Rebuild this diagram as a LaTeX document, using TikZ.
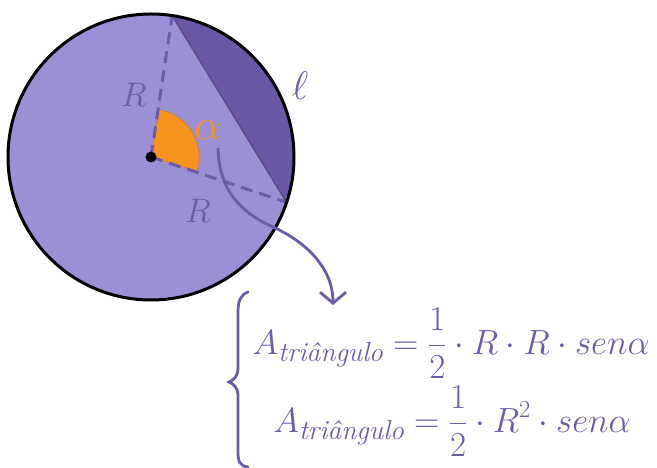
\RequirePackage{fix-cm}
\documentclass[tikz,border=0pt]{standalone}
\usepackage{amsmath}
\usetikzlibrary{arrows.meta,calc}
\definecolor{lightpurple}{RGB}{155,143,214}
\definecolor{darkpurple}{RGB}{106,88,166}
\definecolor{txtpurple}{RGB}{108,90,170}
\definecolor{sectororange}{RGB}{247,148,29}
\newcommand{\trisub}{\text{\fontsize{27.5}{30}\selectfont\itshape triângulo}}
\tikzset{
  lbl/.style={text=txtpurple,font=\fontsize{34}{40}\selectfont,inner sep=0pt},
  formula/.style={text=txtpurple,font=\fontsize{35}{42}\selectfont,inner sep=0pt},
  radius line/.style={draw=txtpurple,line width=3pt,dash pattern=on 12pt off 7pt},
  connector/.style={draw=txtpurple,line width=2.8pt,-{Straight Barb[length=11pt,width=26pt,line width=2.8pt]}},
}
\begin{document}
\begin{tikzpicture}[x=1pt,y=1pt]
\useasboundingbox (0,0) rectangle (657,468);
\coordinate (O) at (151,311);
\coordinate (T) at ($(O)+(81.5:143)$);
\coordinate (P) at ($(O)+(-18.5:143)$);
% disc
\fill[lightpurple] (O) circle (143);
% segment
\fill[darkpurple] (T) arc (81.5:-18.5:143) -- cycle;
\draw[darkpurple!85!black,line width=1.5pt] (T) -- (P);
% sector
\filldraw[fill=sectororange,draw=sectororange!85!black,line width=0.6pt] (O) -- ++(-17:48) arc (-17:80:48) -- cycle;
% radii
\draw[radius line] (O) -- (T);
\draw[radius line] (O) -- (P);
% outline
\draw[black,line width=3pt] (O) circle (143);
\fill[black] (O) circle (5.5);
% labels
\node[lbl] (r1) at (134,373) {$R$};
\node[lbl] (r2) at (198,257) {$R$};
\node[lbl,text=sectororange,font=\fontsize{44}{50}\selectfont] (al) at (208,338) {$\alpha$};
\node[lbl,font=\fontsize{40}{46}\selectfont] (ell) at (300,382) {$\ell$};
% formulas
\node[formula] (f1) at (451,125) {$\displaystyle A_{\trisub}=\frac{1}{2}\cdot R\cdot R\cdot sen\alpha$};
\node[formula] (f2) at (452,47) {$\displaystyle A_{\trisub}=\frac{1}{2}\cdot R^{2}\cdot sen\alpha$};
% brace
\draw[txtpurple,line width=2.8pt,line cap=round] (248,176) .. controls (240,173) and (238,166) .. (238,156) -- (238,100) .. controls (238,92) and (234,88) .. (229,86) .. controls (234,84) and (238,80) .. (238,72) -- (238,16) .. controls (238,6) and (240,2) .. (248,1);
% connector
\coordinate (a0) at (218,320);
\coordinate (a1) at (273,241);
\coordinate (a2) at (333,163);
\draw[connector] (a0) .. controls (219,278) and (240,256) .. (a1) .. controls (306,226) and (333,200) .. (a2);
\end{tikzpicture}
\end{document}
